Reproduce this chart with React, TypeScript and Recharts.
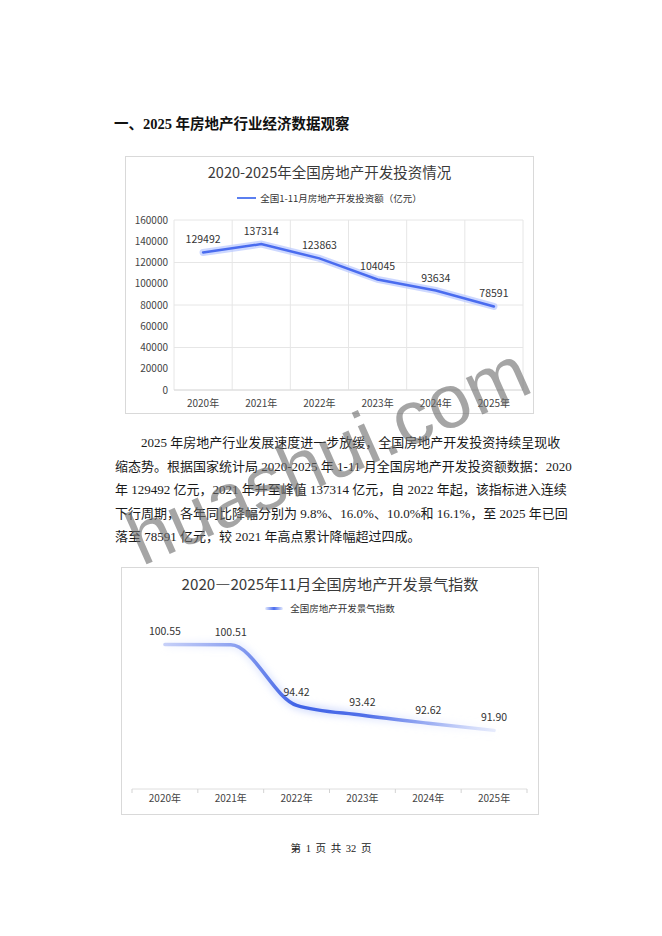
import React from "react";
import { LineChart, Line, XAxis, YAxis, CartesianGrid, LabelList } from "recharts";

const YEARS = ["2020年", "2021年", "2022年", "2023年", "2024年", "2025年"];
const INVEST = [129492, 137314, 123863, 104045, 93634, 78591];
const INVEST_TICKS = [0, 20000, 40000, 60000, 80000, 100000, 120000, 140000, 160000];
const CLIMATE = [100.55, 100.51, 94.42, 93.42, 92.62, 91.9];

const PARAGRAPH = [
  "2025 年房地产行业发展速度进一步放缓，全国房地产开发投资持续呈现收",
  "缩态势。根据国家统计局 2020-2025 年 1-11 月全国房地产开发投资额数据：2020",
  "年 129492 亿元，2021 年升至峰值 137314 亿元，自 2022 年起，该指标进入连续",
  "下行周期，各年同比降幅分别为 9.8%、16.0%、10.0%和 16.1%，至 2025 年已回",
  "落至 78591 亿元，较 2021 年高点累计降幅超过四成。",
];

const investData = YEARS.map((year, i) => ({ year, value: INVEST[i] }));
const climateData = YEARS.map((year, i) => ({ year, value: CLIMATE[i] }));

const SANS = "'Noto Sans CJK SC', 'Noto Sans', sans-serif";
const SERIF = "'Liberation Serif', 'Noto Sans CJK SC', serif";
const TICK = { fontSize: 10, fill: "#444", fontFamily: SANS };
const LABEL = { fontSize: 10.5, fill: "#333", fontFamily: SANS };

// year label with small tick marks on the band edges
const YearTick = (props: any) => {
  const { x, y, payload, index, width, visibleTicksCount } = props;
  const half = width / visibleTicksCount / 2;
  return (
    <g>
      <line x1={x - half} x2={x - half} y1={y} y2={y + 4} stroke="#d3d3d3" />
      {index === visibleTicksCount - 1 && <line x1={x + half} x2={x + half} y1={y} y2={y + 4} stroke="#d3d3d3" />}
      <text x={x} y={y + 6} dy="0.71em" textAnchor="middle" style={TICK}>
        {payload.value}
      </text>
    </g>
  );
};

function InvestChart() {
  return (
    <div
      style={{
        position: "absolute",
        left: 125,
        top: 156,
        width: 409,
        height: 258,
        outline: "1px solid #d9d9d9",
        outlineOffset: -1,
        background: "#fff",
      }}
    >
      <div
        style={{
          position: "absolute",
          top: 5,
          width: "100%",
          textAlign: "center",
          fontFamily: SANS,
          fontSize: 14.5,
          lineHeight: "22px",
          color: "#3a3a3a",
        }}
      >
        2020-2025年全国房地产开发投资情况
      </div>
      <div
        style={{
          position: "absolute",
          top: 34,
          width: "100%",
          display: "flex",
          justifyContent: "center",
          alignItems: "center",
          fontFamily: SANS,
          fontSize: 9.5,
          lineHeight: "16px",
          color: "#333",
        }}
      >
        <span style={{ display: "inline-block", width: 19, height: 2, background: "#5b7ff0", marginRight: 4 }} />
        全国1-11月房地产开发投资额（亿元）
      </div>
      <div style={{ position: "absolute", left: 0, top: 0 }}>
        <LineChart width={409} height={258} data={investData} margin={{ top: 64, right: 11, left: 0, bottom: 0 }}>
          <CartesianGrid
            stroke="#e6e6e6"
            verticalCoordinatesGenerator={({ offset }: any) =>
              YEARS.concat("").map((_, i) => offset.left + (i * offset.width) / YEARS.length)
            }
          />
          <XAxis
            dataKey="year"
            scale="band"
            height={24}
            tick={TICK}
            axisLine={{ stroke: "#dcdcdc" }}
            tickLine={false}
            tickMargin={4}
          />
          <YAxis
            width={49}
            domain={[0, 160000]}
            ticks={INVEST_TICKS}
            tick={TICK}
            axisLine={false}
            tickLine={false}
            tickMargin={0}
          />
          <Line
            dataKey="value"
            type="linear"
            stroke="#b8c8ff"
            strokeOpacity={0.7}
            strokeWidth={7}
            strokeLinecap="round"
            dot={false}
            activeDot={false}
            isAnimationActive={false}
          />
          <Line
            dataKey="value"
            type="linear"
            stroke="#4a6cef"
            strokeWidth={2.5}
            strokeLinecap="round"
            dot={false}
            activeDot={false}
            isAnimationActive={false}
          >
            <LabelList dataKey="value" position="top" offset={9} style={LABEL} />
          </Line>
        </LineChart>
      </div>
    </div>
  );
}

function ClimateChart() {
  return (
    <div
      style={{
        position: "absolute",
        left: 121,
        top: 567,
        width: 418,
        height: 248,
        outline: "1px solid #d9d9d9",
        outlineOffset: -1,
        background: "#fff",
      }}
    >
      <div
        style={{
          position: "absolute",
          top: 4,
          width: "100%",
          textAlign: "center",
          fontFamily: SANS,
          fontSize: 15.2,
          lineHeight: "24px",
          color: "#3a3a3a",
        }}
      >
        2020—2025年11月全国房地产开发景气指数
      </div>
      <div
        style={{
          position: "absolute",
          top: 33,
          width: "100%",
          display: "flex",
          justifyContent: "center",
          alignItems: "center",
          fontFamily: SANS,
          fontSize: 9.5,
          lineHeight: "16px",
          color: "#333",
        }}
      >
        <span
          style={{
            display: "inline-block",
            width: 18,
            height: 3,
            borderRadius: 2,
            background: "linear-gradient(90deg, rgba(91,127,240,0.15), #4a6cef, rgba(91,127,240,0.15))",
            marginRight: 7,
          }}
        />
        全国房地产开发景气指数
      </div>
      <div style={{ position: "absolute", left: 0, top: 0 }}>
        <LineChart width={418} height={248} data={climateData} margin={{ top: 63, right: 12, left: 11, bottom: 0 }}>
          <defs>
            <linearGradient id="climateStroke" x1="0" y1="0" x2="1" y2="0">
              <stop offset="0%" stopColor="#9aabf2" stopOpacity={0.55} />
              <stop offset="20%" stopColor="#7f96ef" stopOpacity={0.85} />
              <stop offset="40%" stopColor="#3f62e6" stopOpacity={1} />
              <stop offset="62%" stopColor="#4a6ae8" stopOpacity={0.95} />
              <stop offset="82%" stopColor="#8ea3f1" stopOpacity={0.8} />
              <stop offset="100%" stopColor="#c3cff8" stopOpacity={0.4} />
            </linearGradient>
            <linearGradient id="climateGlow" x1="0" y1="0" x2="1" y2="0">
              <stop offset="0%" stopColor="#dbe3fd" stopOpacity={0.2} />
              <stop offset="45%" stopColor="#bccbfb" stopOpacity={0.6} />
              <stop offset="100%" stopColor="#dbe3fd" stopOpacity={0.1} />
            </linearGradient>
            <filter id="soft" x="-10%" y="-50%" width="120%" height="200%">
              <feGaussianBlur stdDeviation="3" />
            </filter>
          </defs>
          <XAxis
            dataKey="year"
            scale="band"
            height={26}
            tick={<YearTick />}
            axisLine={{ stroke: "#dedede" }}
            tickLine={false}
            tickSize={0}
            tickMargin={0}
          />
          <YAxis hide domain={[86, 102]} />
          <Line
            dataKey="value"
            type="monotone"
            stroke="url(#climateGlow)"
            strokeWidth={9}
            filter="url(#soft)"
            dot={false}
            activeDot={false}
            isAnimationActive={false}
          />
          <Line
            dataKey="value"
            type="monotone"
            stroke="url(#climateStroke)"
            strokeWidth={3.5}
            strokeLinecap="round"
            dot={false}
            activeDot={false}
            isAnimationActive={false}
          >
            <LabelList
              dataKey="value"
              position="top"
              offset={9}
              style={LABEL}
              formatter={(v: any) => Number(v).toFixed(2)}
            />
          </Line>
        </LineChart>
      </div>
    </div>
  );
}

export default function App() {
  return (
    <div
      lang="zh"
      style={{ position: "absolute", left: 0, top: 0, width: 662, height: 936, background: "#fff", overflow: "hidden" }}
    >
      <div
        style={{
          position: "absolute",
          left: 114,
          top: 114,
          fontFamily: SERIF,
          fontWeight: 700,
          fontSize: 14.5,
          lineHeight: "20px",
          color: "#111",
          whiteSpace: "nowrap",
        }}
      >
        一、2025 年房地产行业经济数据观察
      </div>

      <InvestChart />

      <div style={{ position: "absolute", left: 115, top: 431, width: 430, fontFamily: SERIF, fontSize: 13, color: "#1a1a1a" }}>
        {PARAGRAPH.map((line, i) => (
          <div
            key={i}
            style={{
              height: 23.5,
              lineHeight: "23.5px",
              whiteSpace: "nowrap",
              paddingLeft: i === 0 ? 26 : 0,
              textAlign: i < PARAGRAPH.length - 1 ? "justify" : "left",
              textAlignLast: i < PARAGRAPH.length - 1 ? "justify" : "left",
            }}
          >
            {line}
          </div>
        ))}
      </div>

      <ClimateChart />

      <div
        style={{
          position: "absolute",
          top: 841,
          width: 662,
          textAlign: "center",
          fontFamily: SERIF,
          fontSize: 10.5,
          lineHeight: "16px",
          color: "#222",
          wordSpacing: 2,
        }}
      >
        第 1 页 共 32 页
      </div>

      <div
        style={{
          position: "absolute",
          left: 328,
          top: 455,
          transform: "translate(-50%, -50%) rotate(-24deg)",
          fontFamily: "'Liberation Sans', Arial, sans-serif",
          fontSize: 76,
          lineHeight: "80px",
          color: "rgba(110,110,110,0.62)",
          whiteSpace: "nowrap",
          pointerEvents: "none",
        }}
      >
        huashui.com
      </div>
    </div>
  );
}
